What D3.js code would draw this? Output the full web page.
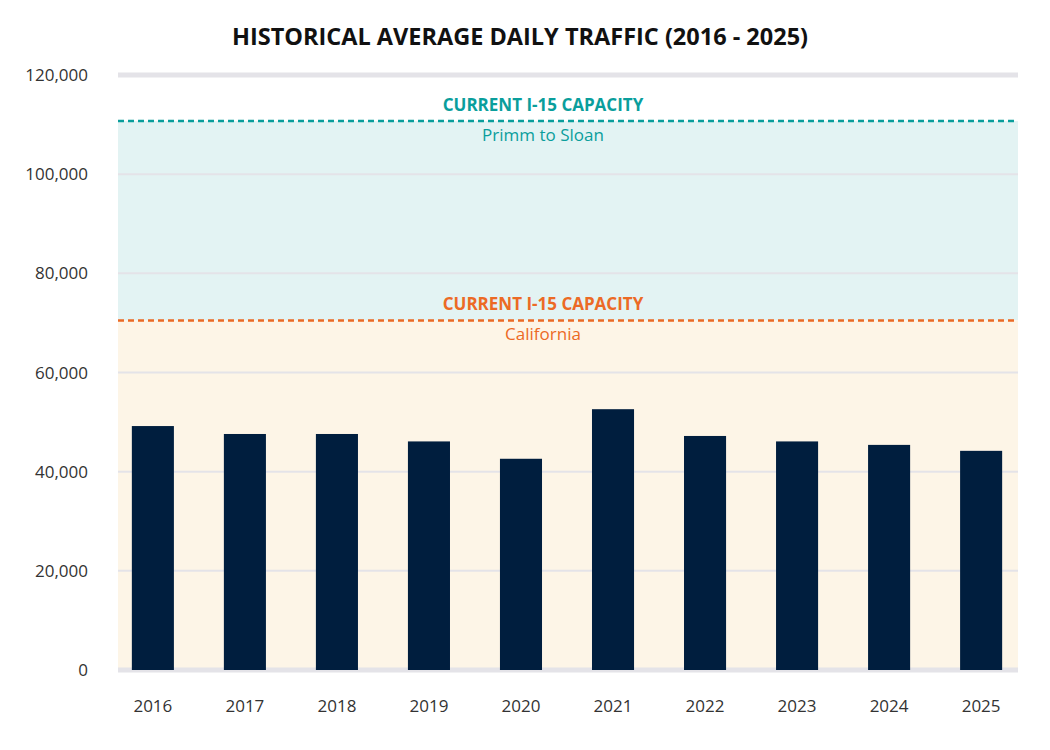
<!DOCTYPE html>
<html><head><meta charset="utf-8">
<script src="https://cdn.jsdelivr.net/npm/d3@7"></script>
<style>body{margin:0;background:#fff;font-family:"Open Sans",sans-serif}</style>
</head><body><svg id="c" width="1050" height="750"></svg>
<script>
const years=["2016","2017","2018","2019","2020","2021","2022","2023","2024","2025"];
const traffic=[49200,47600,47600,46100,42600,52600,47200,46100,45400,44200];
const capacityNames=["Primm to Sloan","California"];
const capacityValues=[110700,70500];
const capacityColors=["#0a9e9c","#ec6a25"];
const yTicks=[0,20000,40000,60000,80000,100000,120000];

const svg=d3.select("#c");
const y=d3.scaleLinear().domain([0,120000]).range([670,75]);
const x=d3.scaleBand().domain(years).range([107,1027]).paddingInner(0.543).paddingOuter(0.27);
const gl=118,gr=1018;

svg.append("rect").attr("x",gl).attr("width",gr-gl).attr("y",y(capacityValues[0])).attr("height",y(capacityValues[1])-y(capacityValues[0])).attr("fill","#e3f3f3");
svg.append("rect").attr("x",gl).attr("width",gr-gl).attr("y",y(capacityValues[1])).attr("height",y(0)-y(capacityValues[1])).attr("fill","#fdf5e7");

yTicks.forEach(t=>{
  svg.append("line").attr("x1",gl).attr("x2",gr).attr("y1",y(t)).attr("y2",y(t))
    .attr("stroke","#e4e3e8").attr("stroke-width",(t===0||t===120000)?5:2);
  svg.append("text").attr("x",88).attr("y",y(t)+6).attr("text-anchor","end").attr("font-size",17).attr("fill","#333").text(d3.format(",")(t));
});

svg.selectAll(".b").data(traffic).join("rect").attr("x",(d,i)=>x(years[i])).attr("width",x.bandwidth())
  .attr("y",d=>y(d)).attr("height",d=>y(0)-y(d)).attr("fill","#001e3e");

svg.selectAll(".xl").data(years).join("text").attr("x",d=>x(d)+x.bandwidth()/2).attr("y",712)
  .attr("text-anchor","middle").attr("font-size",17).attr("fill","#333").text(d=>d);

capacityValues.forEach((v,i)=>{
  svg.append("line").attr("x1",gl).attr("x2",gr).attr("y1",y(v)).attr("y2",y(v)).attr("stroke",capacityColors[i]).attr("stroke-width",2.5).attr("stroke-dasharray","6,4");
  svg.append("text").attr("x",543).attr("y",y(v)-10).attr("text-anchor","middle").attr("font-size",17).attr("font-weight","bold").attr("fill",capacityColors[i]).text("CURRENT I-15 CAPACITY");
  svg.append("text").attr("x",543).attr("y",y(v)+20).attr("text-anchor","middle").attr("font-size",17).attr("fill",capacityColors[i]).text(capacityNames[i]);
});

svg.append("text").attr("x",520).attr("y",45).attr("text-anchor","middle").attr("font-size",23.5).attr("font-weight","bold").attr("fill","#111").text("HISTORICAL AVERAGE DAILY TRAFFIC (2016 - 2025)");
</script></body></html>
